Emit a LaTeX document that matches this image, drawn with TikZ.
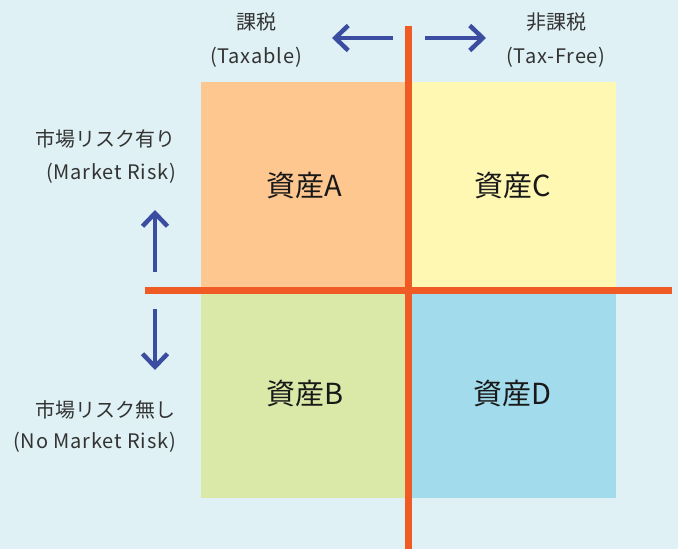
\documentclass[tikz,border=0pt]{standalone}
\usepackage{fontspec}
\setmainfont{Noto Sans CJK JP}
\newfontfamily\engfont[LetterSpace=4]{Noto Sans CJK JP}
\usepackage{xcolor}
\usetikzlibrary{arrows.meta}

\definecolor{bgblue}{HTML}{DFF1F4}
\definecolor{boxA}{HTML}{FFC790}
\definecolor{boxB}{HTML}{DBE9A8}
\definecolor{boxC}{HTML}{FFF8B3}
\definecolor{boxD}{HTML}{A2DBEB}
\definecolor{axisorange}{HTML}{F05A24}
\definecolor{arrowblue}{HTML}{3A4DA0}
\definecolor{txtgray}{HTML}{333333}

\tikzset{
  quad/.style={minimum width=207.5pt, minimum height=208pt, inner sep=0pt, text=black!90, font=\fontsize{29}{33}\selectfont},
  lbl/.style={inner sep=0pt, text=txtgray, font=\fontsize{20}{24}\selectfont},
  elbl/.style={lbl, font=\engfont\fontsize{20}{24}\selectfont},
  axis/.style={draw=axisorange, line width=7pt},
  dir/.style={draw=arrowblue, line width=4.5pt, -{Straight Barb[length=13pt,width=25pt]}}
}

\begin{document}
\begin{tikzpicture}[x=1pt, y=-1pt]

    \fill [bgblue] (0,0) rectangle (678,549);
    \useasboundingbox (0,0) rectangle (678,549);

    \node [quad, fill=boxA] (a) at (304.75, 186) {資産A};
    \node [quad, fill=boxC] (c) at (512.25, 186) {資産C};
    \node [quad, fill=boxB] (b) at (304.75, 394) {資産B};
    \node [quad, fill=boxD] (d) at (512.25, 394) {資産D};

    \coordinate (vtop) at (408.5, 26);
    \coordinate (vbot) at (408.5, 549);
    \coordinate (hleft) at (145, 290.5);
    \coordinate (hright) at (672, 290.5);
    \draw [axis] (vtop) -- (vbot);
    \draw [axis] (hleft) -- (hright);

    \node [lbl] (tx) at (256, 22) {課税};
    \node [elbl] (txe) at (256, 57) {(Taxable)};
    \node [lbl] (tf) at (556, 22) {非課税};
    \node [elbl] (tfe) at (556, 57) {(Tax-Free)};
    \node [lbl, anchor=east] (mr) at (176, 139) {市場リスク有り};
    \node [elbl, anchor=east] (mre) at (176, 173) {(Market Risk)};
    \node [lbl, anchor=east] (nr) at (176, 410) {市場リスク無し};
    \node [elbl, anchor=east] (nre) at (176, 442) {(No Market Risk)};

    \coordinate (l1) at (393, 38);
    \coordinate (l2) at (332, 38);
    \coordinate (r1) at (425, 38);
    \coordinate (r2) at (486, 38);
    \coordinate (u1) at (155, 272);
    \coordinate (u2) at (155, 210);
    \coordinate (d1) at (155, 309);
    \coordinate (d2) at (155, 370);
    \draw [dir] (l1) -- (l2);
    \draw [dir] (r1) -- (r2);
    \draw [dir] (u1) -- (u2);
    \draw [dir] (d1) -- (d2);

\end{tikzpicture}
\end{document}
